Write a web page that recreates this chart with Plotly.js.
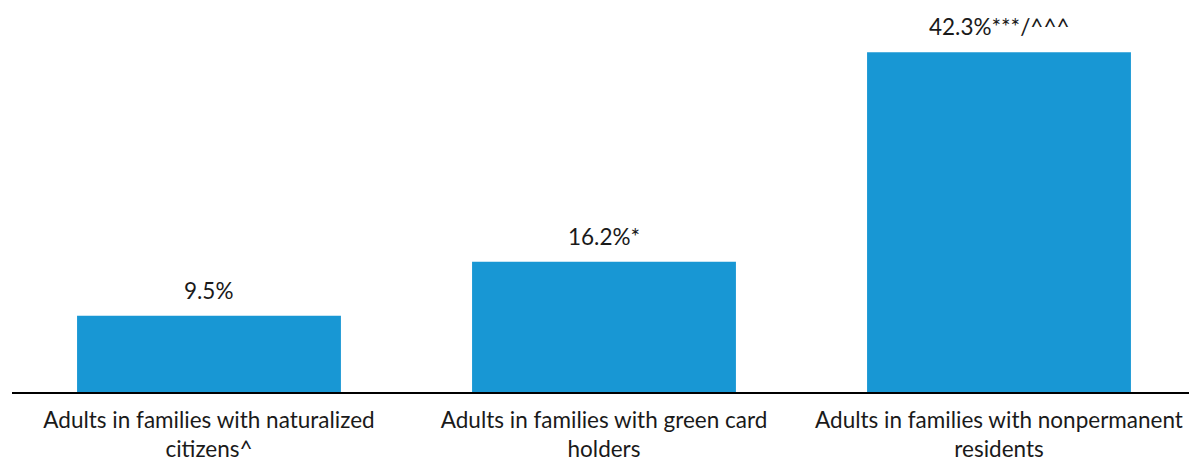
<!DOCTYPE html>
<html>
<head>
<meta charset="utf-8">
<script src="https://cdn.plot.ly/plotly-3.0.1.min.js"></script>
<style>html,body{margin:0;padding:0;background:#fff;}#chart{width:1189px;height:460px;}</style>
</head>
<body>
<div id="chart"></div>
<script>
const categories = [
  "Adults in families with naturalized<br>citizens^",
  "Adults in families with green card<br>holders",
  "Adults in families with nonpermanent<br>residents"
];
const values = [9.5, 16.2, 42.3];
const valueLabels = ["9.5%", "16.2%*", "42.3%***/^^^"];

const font = {family: "Lato, 'Open Sans', sans-serif", size: 22.5, color: "#1a1a1a"};

const trace = {
  type: "bar",
  x: categories,
  y: values,
  marker: {color: "#1897d4", line: {width: 0}},
  hoverinfo: "none"
};

const annotations = categories.map((c, i) => ({
  x: c, y: values[i], xref: "x", yref: "y",
  text: valueLabels[i], showarrow: false,
  yanchor: "bottom", yshift: 10,
  font: font
}));

const layout = {
  width: 1189, height: 460,
  margin: {l: 12, r: 0, t: 0, b: 68},
  paper_bgcolor: "#fff", plot_bgcolor: "#fff",
  bargap: 0.332,
  showlegend: false,
  font: font,
  xaxis: {
    type: "category",
    range: [-0.4987, 2.481],
    showline: true, linecolor: "#000", linewidth: 2,
    ticks: "", showgrid: false, zeroline: false,
    tickfont: font, ticklabelstandoff: 7
  },
  yaxis: {
    range: [0, 48.8],
    visible: false, showgrid: false, zeroline: false
  },
  annotations: annotations
};

Plotly.newPlot("chart", [trace], layout, {staticPlot: true, displayModeBar: false});
</script>
</body>
</html>
